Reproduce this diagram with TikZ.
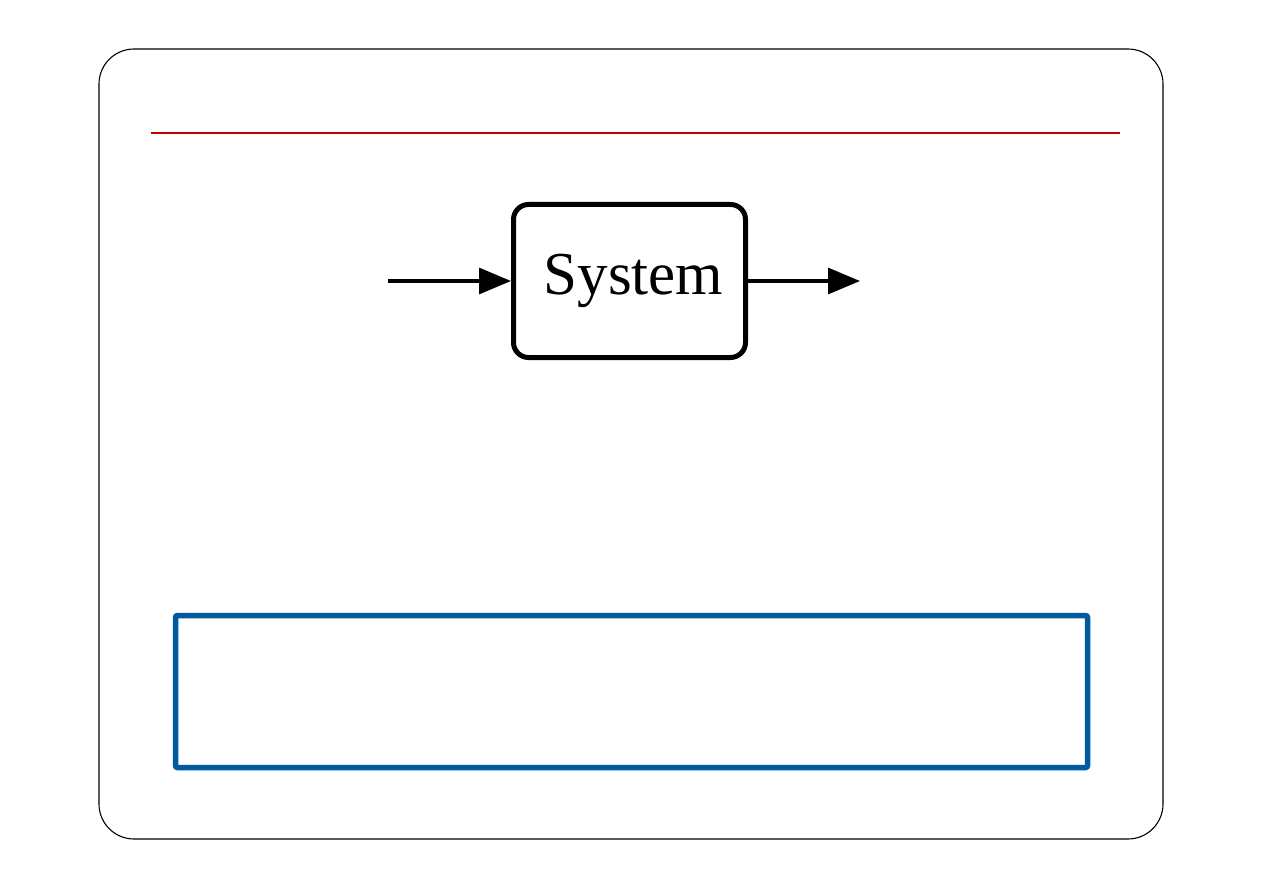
\documentclass[tikz,border=0pt]{standalone}
\usepackage{fontspec}
\setmainfont{Liberation Serif}
\usetikzlibrary{arrows.meta}
\definecolor{redline}{HTML}{C00000}
\definecolor{bluebox}{HTML}{005A9E}
\begin{document}
\begin{tikzpicture}[x=1pt,y=-1pt,
  frame/.style={draw=black,line width=1.1pt,rounded corners=35pt},
  sysbox/.style={draw=black,line width=5pt,rounded corners=15pt,minimum width=232pt,minimum height=153pt,inner sep=0pt,font=\fontsize{61}{72}\selectfont},
  conn/.style={line width=3.2pt,-{Triangle[length=32pt,width=26pt]}},
  bluerect/.style={draw=bluebox,line width=5.5pt,rounded corners=2pt}]
\useasboundingbox (0,0) rectangle (1263,893);
\draw[frame] (99,49) rectangle (1163,839);
\draw[redline,line width=2.8pt] (151,133) -- (1120,133);
\node[sysbox] (sys) at (629.5,281) {\hspace{8pt}System};
\coordinate (in) at (388,281);
\coordinate (out) at (860,281);
\draw[conn] (in) -- (sys.west);
\draw[conn] (sys.east) -- (out);
\draw[bluerect] (175.5,615.5) rectangle (1087.5,767.5);
\end{tikzpicture}
\end{document}
